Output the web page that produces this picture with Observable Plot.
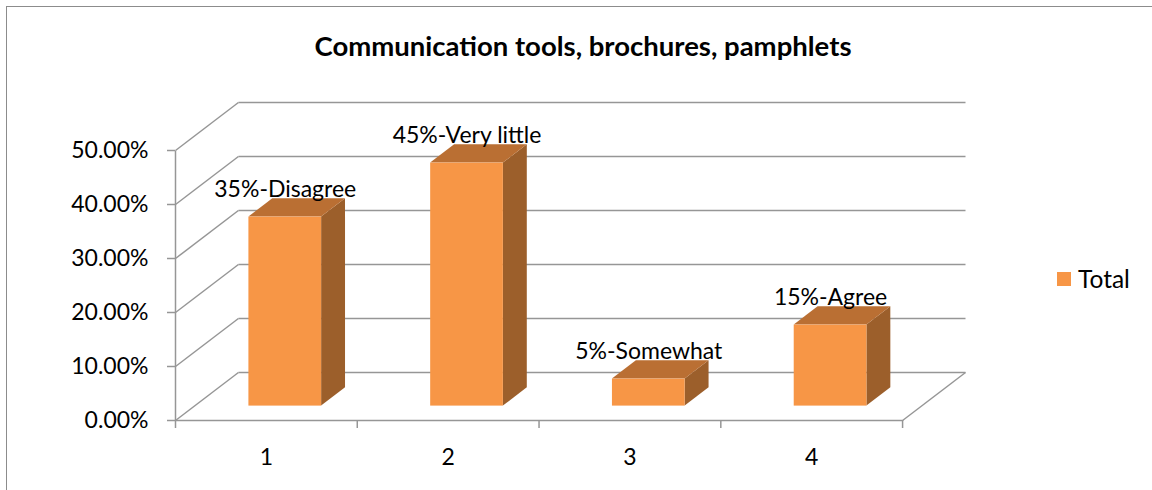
<!DOCTYPE html>
<html>
<head>
<meta charset="utf-8">
<script src="https://cdn.jsdelivr.net/npm/d3@7"></script>
<script src="https://cdn.jsdelivr.net/npm/@observablehq/plot@0.6"></script>
<style>
  html, body { margin: 0; padding: 0; background: #fff; }
  #wrap { position: relative; width: 1152px; height: 490px; overflow: hidden; font-family: Lato, "Open Sans", sans-serif; }
  #border { position: absolute; left: 6px; top: 6px; width: 1200px; height: 600px; border-left: 1.5px solid #8c8c8c; border-top: 1.5px solid #8c8c8c; }
  #title { position: absolute; left: 0; width: 1166px; top: 28px; text-align: center; font-weight: bold; font-size: 27.5px; line-height: 36px; color: #000; }
  #legend { position: absolute; left: 1057px; top: 264px; font-size: 24.5px; line-height: 30px; color: #000; display: flex; align-items: center; }
  #legend .sw { width: 14px; height: 14px; margin-right: 7px; }
  #chart { position: absolute; left: 0; top: 0; }
</style>
</head>
<body>
<div id="wrap">
  <div id="border"></div>
  <div id="chart"></div>
  <div id="title">Communication tools, brochures, pamphlets</div>
  <div id="legend"><div class="sw"></div><span id="legendText"></span></div>
</div>
<script>
// ---- data ----
const categories = [1, 2, 3, 4];
const values = [0.35, 0.45, 0.05, 0.15];
const labels = ["35%-Disagree", "45%-Very little", "5%-Somewhat", "15%-Agree"];
const yTicks = [0, 0.1, 0.2, 0.3, 0.4, 0.5];
const seriesName = "Total";

// ---- style / projection constants ----
const frontColor = "#F79646", topColor = "#BA6F33", sideColor = "#9C5F2B";
const gridColor = "#969696";
const kx = 63 / 182;   // depth shift in x-units
const ky = 48 / 540;   // depth shift in y-units
const d0 = 0.3, d1 = 0.68, hw = 0.2;

const xMin = categories[0] - 0.5, xMax = categories[categories.length - 1] + 0.5;
const yMax = yTicks[yTicks.length - 1];
const xEdges = [xMin, ...categories.map(c => c + 0.5)];

const bars = categories.map((c, i) => ({cat: c, v: values[i], label: labels[i]}));
const sideRows = bars.flatMap(b => [d0, d1].map(d => ({cat: b.cat, x: b.cat + hw + d * kx, yb: d * ky, yt: b.v + d * ky})));
const topRows = bars.flatMap(b => [d0, d1].map(d => ({cat: b.cat, y: b.v + d * ky, xl: b.cat - hw + d * kx, xr: b.cat + hw + d * kx})));

const chart = Plot.plot({
  width: 1152, height: 490,
  marginLeft: 175, marginRight: 187, marginTop: 102, marginBottom: 70,
  x: {domain: [xMin, xMax + kx]},
  y: {domain: [0, yMax + ky]},
  style: {fontFamily: "Lato, 'Open Sans', sans-serif", fontSize: "23px", color: "#000", background: "transparent"},
  marks: [
    // left wall diagonals
    Plot.link(yTicks, {x1: () => xMin, y1: d => d, x2: () => xMin + kx, y2: d => d + ky, stroke: gridColor, strokeWidth: 1.5}),
    // back wall horizontals
    Plot.link(yTicks, {x1: () => xMin + kx, y1: d => d + ky, x2: () => xMax + kx, y2: d => d + ky, stroke: gridColor, strokeWidth: 1.5}),
    // floor right edge
    Plot.link([0], {x1: () => xMax, y1: d => d, x2: () => xMax + kx, y2: d => d + ky, stroke: gridColor, strokeWidth: 1.5}),
    // axis lines
    Plot.link([0], {x1: () => xMin, x2: () => xMax, y1: d => d, y2: d => d, stroke: gridColor, strokeWidth: 1.5}),
    Plot.link([xMin], {x1: d => d, x2: d => d, y1: () => 0, y2: () => yMax, stroke: gridColor, strokeWidth: 1.5}),
    // bars: side, top, front
    Plot.areaY(sideRows, {x: "x", y1: "yb", y2: "yt", z: "cat", fill: sideColor}),
    Plot.areaX(topRows, {y: "y", x1: "xl", x2: "xr", z: "cat", fill: topColor}),
    Plot.rect(bars, {x1: b => b.cat - hw + d0 * kx, x2: b => b.cat + hw + d0 * kx, y1: () => d0 * ky, y2: b => b.v + d0 * ky, fill: frontColor}),
    // data labels
    Plot.text(bars, {x: b => b.cat + d0 * kx, y: b => b.v + d0 * ky, text: "label", dy: -27, fontSize: 23, fill: "#000"}),
    // axes
    Plot.axisY({ticks: yTicks, tickFormat: d3.format(".2%"), tickSize: 8, tickPadding: 19, stroke: gridColor, strokeWidth: 1.5, label: null, fontSize: 23}),
    Plot.axisX({ticks: xEdges, tickFormat: () => "", tickSize: 8, stroke: gridColor, strokeWidth: 1.5, label: null}),
    Plot.axisX({ticks: categories, tickFormat: d => String(d), tickSize: 0, tickPadding: 28, label: null, fontSize: 23})
  ]
});
document.getElementById("chart").appendChild(chart);
document.querySelector("#legend .sw").style.background = frontColor;
document.getElementById("legendText").textContent = seriesName;
</script>
</body>
</html>
